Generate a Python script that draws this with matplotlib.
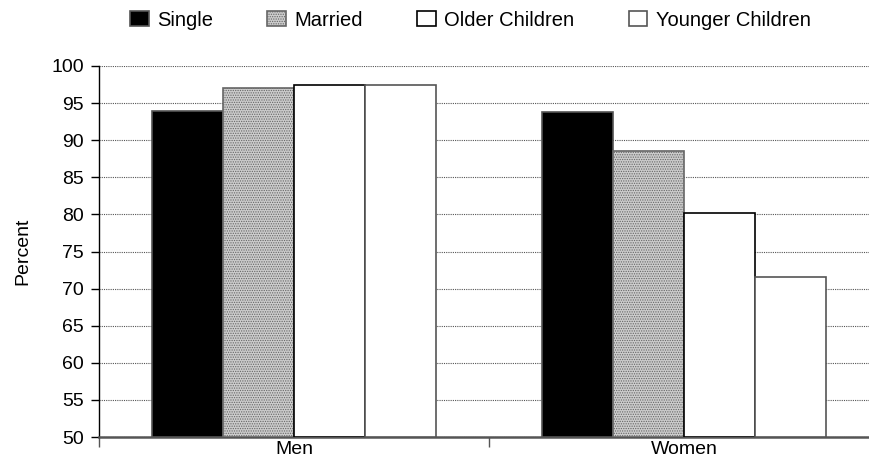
import matplotlib.pyplot as plt
import numpy as np

plt.rcParams['font.family'] = ['Liberation Sans', 'DejaVu Sans']
plt.rcParams['hatch.linewidth'] = 0.6

# data
groups = ['Men', 'Women']
series = ['Single', 'Married', 'Older Children', 'Younger Children']
single = [94.0, 93.8]
married = [97.0, 88.6]
older = [97.5, 80.2]
younger = [97.5, 71.6]
yticks = [50, 55, 60, 65, 70, 75, 80, 85, 90, 95, 100]

values = [single, married, older, younger]
faces = ['black', '#cccccc', 'white', 'white']
hatches = [None, '.......', None, None]
edges = ['#555555', '#666666', 'black', '#555555']

fig = plt.figure(figsize=(8.69, 4.58), dpi=100)
ax = fig.add_axes([99 / 869, 21 / 458, 780 / 869, 371 / 458])

x = np.arange(len(groups))
w = 0.182
offsets = (np.arange(4) - 1.5) * w
handles = []
for i, vals in enumerate(values):
    b = ax.bar(x + offsets[i], np.array(vals) - 50, w, bottom=50,
               color=faces[i], edgecolor=edges[i], linewidth=1.2,
               hatch=hatches[i], zorder=3, label=series[i])
    handles.append(b)

ax.set_ylim(50, 100)
ax.set_xlim(-0.5, 1.5)
ax.set_yticks(yticks)
ax.set_yticklabels([str(t) for t in yticks], fontsize=14)
ax.set_xticks([-0.5, 0.5, 1.5])
ax.set_xticklabels([])
ax.set_xticks(x, minor=True)
ax.set_xticklabels(groups, minor=True, fontsize=14)
ax.tick_params(axis='x', which='minor', length=0, pad=3)
ax.tick_params(axis='x', which='major', length=7, width=1, color='#555555')
ax.tick_params(axis='y', length=6, width=1, pad=5)

ax.yaxis.grid(True, linestyle=(0, (1, 1)), color='#555555', linewidth=0.8, zorder=0)
ax.set_axisbelow(True)
ax.spines['top'].set_visible(False)
ax.spines['right'].set_visible(False)
ax.spines['bottom'].set_color('#555555')
ax.spines['bottom'].set_linewidth(1.8)
ax.spines['left'].set_linewidth(1.0)

ax.set_ylabel('Percent', fontsize=14, labelpad=14)

fig.legend(handles=handles, loc='center', bbox_to_anchor=(0.541, 1 - 20 / 458),
           ncol=4, frameon=False, fontsize=14.5, handlelength=0.93,
           handleheight=0.83, handletextpad=0.41, columnspacing=2.7)

fig.savefig('out.png', dpi=100)
